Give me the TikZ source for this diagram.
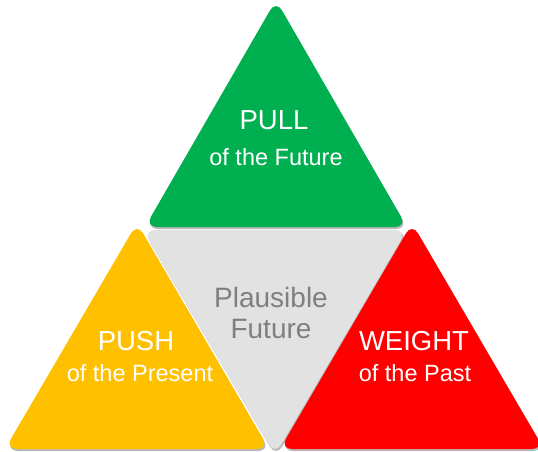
\documentclass[tikz,border=0pt]{standalone}
\usepackage{fontspec}
\setmainfont{Liberation Sans}
\begin{document}
\definecolor{pullgreen}{HTML}{00B050}
\definecolor{pushyellow}{HTML}{FFC000}
\definecolor{weightred}{HTML}{FF0000}
\definecolor{futuregray}{HTML}{E2E2E2}
\definecolor{futuretext}{HTML}{7F7F7F}
\begin{tikzpicture}[x=1pt,y=-1pt,
  tri/.style={rounded corners=12pt},
  triShadow/.style={rounded corners=12pt, fill=black, opacity=0.28},
  headline/.style={anchor=base, text=white, font=\fontsize{27.5}{30}\selectfont, inner sep=0pt},
  subline/.style={anchor=base, text=white, font=\fontsize{23.5}{26}\selectfont, inner sep=0pt},
  grayline/.style={anchor=base, text=futuretext, font=\fontsize{28}{30}\selectfont, inner sep=0pt}]
  \useasboundingbox (0,0) rectangle (538,451);

  % soft shadows under each triangle
  \fill[triShadow] (276.8,2) -- (408,229) -- (145.8,229) -- cycle;
  \fill[triShadow] (144,232) -- (408.5,232) -- (276,457) -- cycle;
  \fill[triShadow] (137.8,225) -- (270,451) -- (5.8,451) -- cycle;
  \fill[triShadow] (412.8,225) -- (545,451) -- (280.8,451) -- cycle;

  % the four triangles
  \fill[tri, pullgreen]  (276,0) -- (407,227) -- (145,227) -- cycle;
  \fill[tri, futuregray] (143,230) -- (407,230) -- (275,455) -- cycle;
  \fill[tri, pushyellow] (137,223) -- (269,449) -- (5,449) -- cycle;
  \fill[tri, weightred]  (412,223) -- (544,449) -- (280,449) -- cycle;

  % labels
  \node[headline] (pull)      at (274,129) {PULL};
  \node[subline]  (pullsub)   at (276,165) {of the Future};
  \node[headline] (push)      at (136,350) {PUSH};
  \node[subline]  (pushsub)   at (140,381) {of the Present};
  \node[headline] (weight)    at (414,350) {WEIGHT};
  \node[subline]  (weightsub) at (415,381) {of the Past};
  \node[grayline] (plaus)     at (271,307) {Plausible};
  \node[grayline] (future)    at (271,338) {Future};
\end{tikzpicture}
\end{document}
